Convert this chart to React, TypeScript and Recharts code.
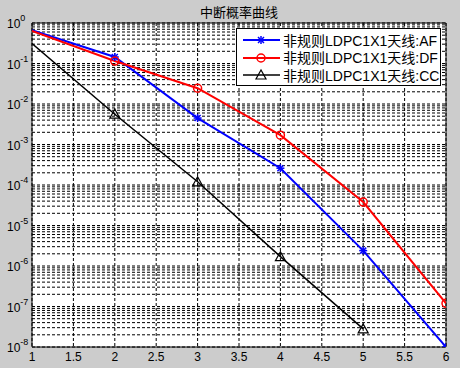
import React from 'react';
import { LineChart, Line, XAxis, YAxis, CartesianGrid, ReferenceArea, Legend } from 'recharts';

// 横轴取值与三条中断概率曲线
const xs = [1, 2, 3, 4, 5, 6];
const afValues = [0.66, 0.145, 0.0045, 2.6e-4, 2.4e-6, 1.0e-8];
const dfValues = [0.64, 0.115, 0.0245, 1.7e-3, 3.8e-5, 1.2e-7];
const ccValues = [0.31, 0.0056, 1.2e-4, 1.7e-6, 2.8e-8, null];

const xTicks = [1, 1.5, 2, 2.5, 3, 3.5, 4, 4.5, 5, 5.5, 6];
const decades = [-8, -7, -6, -5, -4, -3, -2, -1];
const yTicks = [...decades.flatMap(k => [1, 2, 3, 4, 5, 6, 7, 8, 9].map(m => m * Math.pow(10, k))), 1];

const seriesNames = ['非规则LDPC1X1天线:AF', '非规则LDPC1X1天线:DF', '非规则LDPC1X1天线:CC'];

const data = xs.map((x, i) => ({ x, af: afValues[i], df: dfValues[i], cc: ccValues[i] }));

const FONT = "'Liberation Sans', Arial, 'Noto Sans CJK SC', sans-serif";

const isDecade = (v: number) => Math.abs(Math.log10(v) - Math.round(Math.log10(v))) < 1e-9;

const YTick = (props: any) => {
  const { x, y, payload } = props;
  if (!isDecade(payload.value)) return null;
  const exp = Math.round(Math.log10(payload.value));
  return (
    <text x={x - 17} y={y + 5} fontSize={12} fontFamily={FONT} fill="#000">
      <tspan>10</tspan>
      <tspan dy={-7} fontSize={9}>{exp}</tspan>
    </text>
  );
};

const XTick = (props: any) => {
  const { x, y, payload } = props;
  return (
    <text x={x} y={y + 6} fontSize={12} fontFamily={FONT} fill="#000" textAnchor="middle">
      {payload.value}
    </text>
  );
};

const Star = ({ cx, cy, color }: any) => (
  <g stroke={color} strokeWidth={1.5}>
    <line x1={cx - 4} y1={cy} x2={cx + 4} y2={cy} />
    <line x1={cx} y1={cy - 4} x2={cx} y2={cy + 4} />
    <line x1={cx - 3} y1={cy - 3} x2={cx + 3} y2={cy + 3} />
    <line x1={cx - 3} y1={cy + 3} x2={cx + 3} y2={cy - 3} />
  </g>
);

const Circle = ({ cx, cy, color }: any) => (
  <circle cx={cx} cy={cy} r={4} fill="none" stroke={color} strokeWidth={1.5} />
);

const Triangle = ({ cx, cy, color }: any) => (
  <polygon
    points={`${cx},${cy - 5} ${cx - 5},${cy + 4} ${cx + 5},${cy + 4}`}
    fill="none"
    stroke={color}
    strokeWidth={1.2}
  />
);

const makeDot = (Shape: any, color: string) => (props: any) => {
  const { cx, cy, payload, index } = props;
  if (payload.x === 1 || cx == null || cy == null || isNaN(cy)) return <g key={index} />;
  return <g key={index}><Shape cx={cx} cy={cy} color={color} /></g>;
};

const seriesStyles = [
  { key: 'af', color: '#0000ff', width: 2, Shape: Star },
  { key: 'df', color: '#ff0000', width: 2, Shape: Circle },
  { key: 'cc', color: '#000000', width: 1.5, Shape: Triangle },
];

const LegendBox = () => (
  <div
    style={{
      width: 205,
      height: 58,
      background: '#fff',
      border: '1px solid #000',
      fontFamily: FONT,
      fontSize: 14,
      boxSizing: 'border-box',
      paddingTop: 2,
    }}
  >
    {seriesStyles.map((s, i) => (
      <div key={s.key} style={{ display: 'flex', alignItems: 'center', height: 17.5 }}>
        <svg width={46} height={17}>
          <line x1={6} y1={9} x2={43} y2={9} stroke={s.color} strokeWidth={s.width} />
          <s.Shape cx={24} cy={9} color={s.color} />
        </svg>
        <span style={{ whiteSpace: 'nowrap' }}>{seriesNames[i]}</span>
      </div>
    ))}
  </div>
);

export default function App() {
  return (
    <div style={{ position: 'fixed', left: 0, top: 0, width: 460, height: 368, background: '#cccccc' }}>
      <div
        style={{
          position: 'absolute',
          left: 0,
          width: 478,
          top: 2,
          textAlign: 'center',
          fontFamily: FONT,
          fontSize: 13,
          color: '#000',
        }}
      >
        中断概率曲线
      </div>
      <LineChart width={460} height={368} data={data} margin={{ top: 23, right: 14, bottom: 0, left: 0 }}>
        <CartesianGrid stroke="#000" strokeDasharray="3 2" strokeWidth={1} fill="#ffffff" fillOpacity={1} />
        <XAxis
          dataKey="x"
          type="number"
          domain={[1, 6]}
          ticks={xTicks}
          interval={0}
          height={21}
          tick={<XTick />}
          tickLine={false}
          axisLine={false}
          allowDataOverflow
        />
        <YAxis
          scale="log"
          type="number"
          domain={[1e-8, 1]}
          ticks={yTicks}
          interval={0}
          width={32}
          tick={<YTick />}
          tickLine={false}
          axisLine={false}
          allowDataOverflow
        />
        <ReferenceArea x1={1} x2={6} y1={1e-8} y2={1} fill="none" stroke="#000" strokeWidth={1} />
        {seriesStyles.map(s => (
          <Line
            key={s.key}
            dataKey={s.key}
            stroke={s.color}
            strokeWidth={s.width}
            dot={makeDot(s.Shape, s.color)}
            activeDot={false}
            isAnimationActive={false}
            connectNulls={false}
          />
        ))}
        <Legend
          layout="vertical"
          align="center"
          verticalAlign="middle"
          wrapperStyle={{ top: 28, left: 236, width: 'auto' }}
          content={<LegendBox />}
        />
      </LineChart>
    </div>
  );
}
